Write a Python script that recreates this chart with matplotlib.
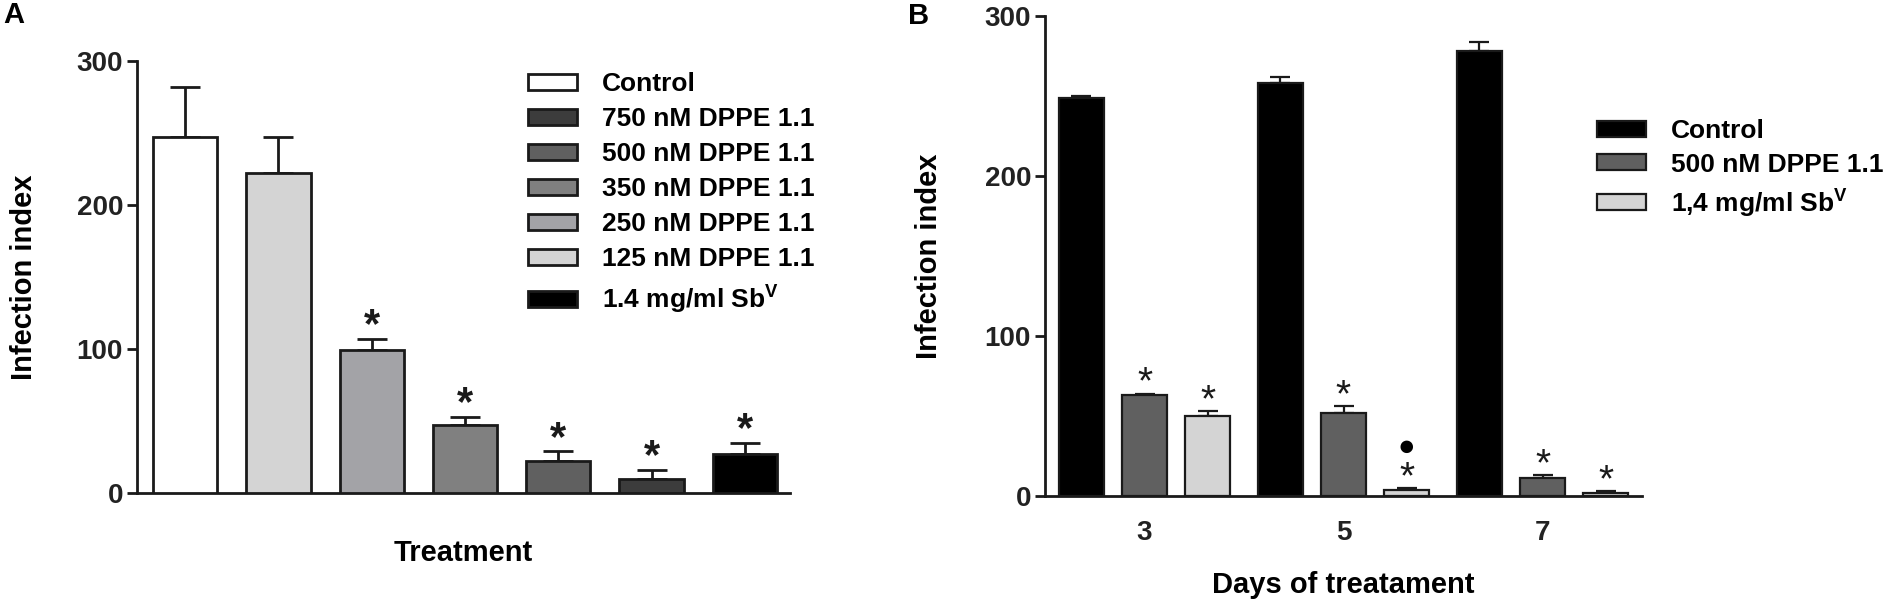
import numpy as np
import matplotlib
matplotlib.use("Agg")
from matplotlib import pyplot as plt

plt.rcParams['font.family'] = ['Liberation Sans', 'DejaVu Sans']
plt.rcParams['font.weight'] = 'bold'
plt.rcParams['axes.labelweight'] = 'bold'
plt.rcParams['mathtext.fontset'] = 'custom'
plt.rcParams['mathtext.rm'] = 'Liberation Sans:bold'
plt.rcParams['mathtext.bf'] = 'Liberation Sans:bold'

# panel A data (bar order, left to right)
tratamientos = ["Control", "125 nM DPPE 1.1", "250 nM DPPE 1.1", "350 nM DPPE 1.1",
                "500 nM DPPE 1.1", "750 nM DPPE 1.1", r"1.4 mg/ml Sb$^{\mathrm{V}}$"]
indiceA = [247, 222, 99, 47, 22, 10, 27]
errA = [35, 25, 8, 6, 7, 6, 8]
signifA = [False, False, True, True, True, True, True]
coloresA = ['#ffffff', '#d4d4d4', '#a3a3a7', '#808080', '#606060', '#3c3c3c', '#000000']
ordenLeyendaA = [0, 5, 4, 3, 2, 1, 6]

# panel B data
dias = ["3", "5", "7"]
gruposB = ["Control", "500 nM DPPE 1.1", r"1,4 mg/ml Sb$^{\mathrm{V}}$"]
indiceB = [[249, 258, 278],
           [63, 52, 11],
           [50, 4, 2]]
errB = [[1, 4, 6],
        [1, 4, 2],
        [3, 1, 1]]
signifB = [[False, False, False],
           [True, True, True],
           [True, True, True]]
puntoB = [[False, False, False],
          [False, False, False],
          [False, True, False]]
coloresB = ['#000000', '#606060', '#d4d4d4']

W, H = 1900, 605
fig = plt.figure(figsize=(W / 100, H / 100), dpi=100)
negro = '#1a1a1a'


def estilo(ax, lw):
    ax.spines['top'].set_visible(False)
    ax.spines['right'].set_visible(False)
    ax.spines['left'].set_linewidth(lw)
    ax.spines['bottom'].set_linewidth(lw)
    ax.spines['left'].set_color(negro)
    ax.spines['bottom'].set_color(negro)
    ax.set_ylim(0, 300)
    ax.set_yticks([0, 100, 200, 300])
    ax.tick_params(axis='y', length=7, width=lw, color=negro, labelsize=20, pad=3, labelcolor='#222222')
    ax.tick_params(axis='x', length=0)


# ---------- A ----------
axA = fig.add_axes([137 / W, 1 - 493 / H, 653 / W, 432 / H])
x = np.arange(len(indiceA))
barrasA = []
for i in range(len(indiceA)):
    b = axA.bar(x[i], indiceA[i], width=0.69, color=coloresA[i], edgecolor=negro,
                linewidth=2, label=tratamientos[i], zorder=3)
    barrasA.append(b)
axA.errorbar(x, indiceA, yerr=[np.zeros(len(errA)), errA], fmt='none', ecolor=negro,
             elinewidth=2, capsize=11, capthick=2, zorder=2)
for i in range(len(indiceA)):
    if signifA[i]:
        axA.annotate("*", (x[i], indiceA[i] + errA[i]), xytext=(0, 1), textcoords='offset points',
                     ha='center', va='baseline', fontsize=30, fontweight='bold', color=negro)
axA.set_xlim(-0.517, 6.485)
axA.set_xticks([])
estilo(axA, 2)
axA.set_ylabel("Infection index", fontsize=21)
axA.yaxis.set_label_coords(-0.1516, 0.5)
axA.set_xlabel("Treatment", fontsize=21)
axA.xaxis.set_label_coords(0.5, -0.139)
axA.xaxis.label.set_va('center')
leyA = axA.legend([barrasA[i] for i in ordenLeyendaA], [tratamientos[i] for i in ordenLeyendaA],
                  loc='upper left', bbox_to_anchor=(528 / W, 1 - 72 / H), bbox_transform=fig.transFigure,
                  frameon=False, fontsize=19, handlelength=1.85, handleheight=0.57,
                  handletextpad=0.95, labelspacing=0.42, borderpad=0, borderaxespad=0)
fig.text(3 / W, 1 - 15 / H, "A", fontsize=21, fontweight='bold', va='center', ha='left')

# ---------- B ----------
axB = fig.add_axes([1045 / W, 1 - 496 / H, 597 / W, 480 / H])
xg = np.arange(len(dias))
desp = [-0.317, 0, 0.317]
barrasB = []
for j in range(len(gruposB)):
    xs = xg + desp[j]
    b = axB.bar(xs, indiceB[j], width=0.226, color=coloresB[j], edgecolor=negro,
                linewidth=1.6, label=gruposB[j], zorder=3)
    barrasB.append(b)
    axB.errorbar(xs, indiceB[j], yerr=[np.zeros(len(errB[j])), errB[j]], fmt='none', ecolor=negro,
                 elinewidth=1.6, capsize=7, capthick=1.6, zorder=2)
    for k in range(len(dias)):
        if signifB[j][k]:
            axB.annotate("*", (xs[k], indiceB[j][k] + errB[j][k]), xytext=(0, 0), textcoords='offset points',
                         ha='center', va='baseline', fontsize=28, fontweight='normal', color=negro)
        if puntoB[j][k]:
            axB.annotate("●", (xs[k], indiceB[j][k] + errB[j][k]), xytext=(0, 24), textcoords='offset points',
                         ha='center', va='baseline', fontsize=21, color='#000000')
axB.set_xlim(-0.5, 2.5)
axB.set_xticks(xg)
axB.set_xticklabels(dias)
estilo(axB, 2)
axB.tick_params(axis='x', labelsize=20, pad=17, labelcolor='#222222')
axB.set_ylabel("Infection index", fontsize=21)
axB.yaxis.set_label_coords(-0.171, 0.5)
axB.set_xlabel("Days of treatament", fontsize=21)
axB.xaxis.set_label_coords(0.5, -0.185)
axB.xaxis.label.set_va('center')
leyB = axB.legend(barrasB, gruposB, loc='upper left', bbox_to_anchor=(1597 / W, 1 - 119 / H),
                  bbox_transform=fig.transFigure, frameon=False, fontsize=19, handlelength=1.85,
                  handleheight=0.57, handletextpad=0.95, labelspacing=0.36, borderpad=0, borderaxespad=0)
fig.text(908 / W, 1 - 16 / H, "B", fontsize=21, fontweight='bold', va='center', ha='left')

fig.savefig("out.png", dpi=100)
